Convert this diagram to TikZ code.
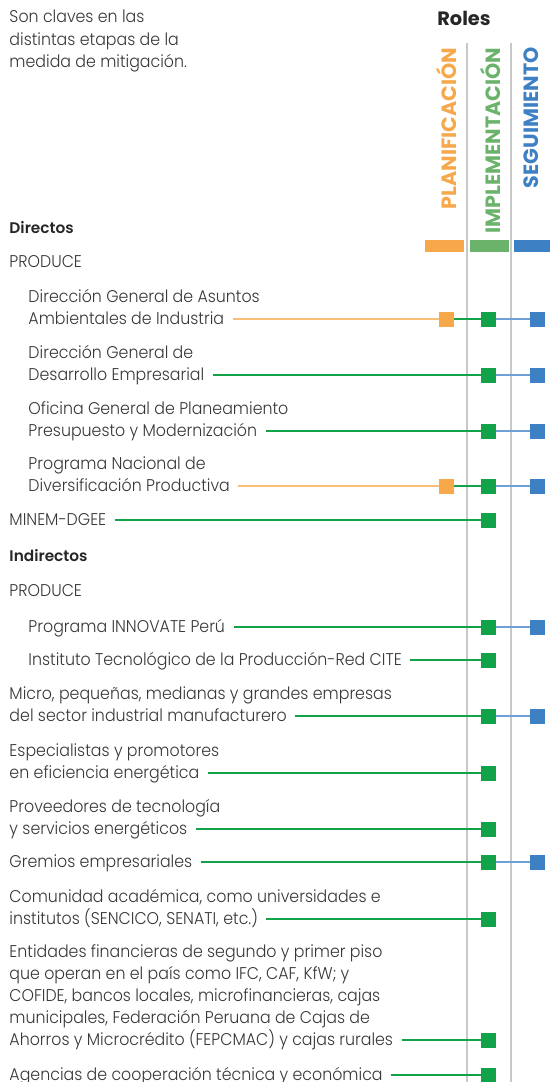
\documentclass[tikz,border=0pt]{standalone}
\usepackage{fontspec}
\setmainfont{Poppins}[UprightFont=* Light, UprightFeatures={FakeStretch=0.93}, BoldFont=* SemiBold]
\newfontfamily\rolefont{Poppins}[UprightFont=* Bold]
\definecolor{planorange}{RGB}{247,168,75}
\definecolor{planline}{RGB}{249,190,120}
\definecolor{implgreen}{RGB}{107,178,106}
\definecolor{implsq}{RGB}{18,162,74}
\definecolor{segblue}{RGB}{61,128,196}
\definecolor{segline}{RGB}{110,160,215}
\definecolor{railgray}{RGB}{200,200,200}
\definecolor{txtgray}{RGB}{55,55,55}

\tikzset{every picture/.style={line width=0.75pt}}
\tikzset{
  txt/.style={anchor=base west, inner sep=0pt, text=txtgray, font=\fontsize{12.75}{14}\selectfont},
  head/.style={anchor=base west, inner sep=0pt, text=black!85, font=\fontsize{11.5}{14}\selectfont\bfseries},
  role/.style={rotate=90, anchor=east, inner sep=0pt, font=\fontsize{15.5}{16}\rolefont},
  sq/.style={minimum size=11.25pt, inner sep=0pt, outer sep=0pt, draw=none},
  osq/.style={sq, fill=planorange},
  gsq/.style={sq, fill=implsq},
  bsq/.style={sq, fill=segblue},
  oline/.style={draw=planline, line width=1pt, shorten <=6pt},
  gline/.style={draw=implsq, line width=1pt, shorten <=6pt},
  gjoin/.style={draw=implsq, line width=1pt},
  bjoin/.style={draw=segline, line width=1pt},
  rail/.style={draw=railgray, line width=1pt}
}

\begin{document}
\begin{tikzpicture}[x=0.75pt,y=0.75pt,yscale=-1,xscale=1]
	\useasboundingbox (0,0) rectangle (550,1082);

	%Rails
	\coordinate (r1top) at (467,43);
	\coordinate (r1bot) at (467,1082);
	\coordinate (r2top) at (511,43);
	\coordinate (r2bot) at (511,1082);
	\draw [rail] (r1top) -- (r1bot) ;
	\draw [rail] (r2top) -- (r2bot) ;

	%Role headers
	\node [font=\fontsize{14.5}{16}\rolefont, text=black!85] (roles) at (464,18) {Roles};
	\node [role, text=planorange] (plan) at (446,47) {PLANIFICACIÓN};
	\node [role, text=implgreen] (impl) at (490,47) {IMPLEMENTACIÓN};
	\node [role, text=segblue] (seg) at (531,47) {SEGUIMIENTO};
	\fill [planorange] (425,240) rectangle (464,252) ;
	\fill [implgreen] (470,240) rectangle (509,252) ;
	\fill [segblue] (514,240) rectangle (550,252) ;

	% Text Node
	\node [txt] (introa) at (9,22) {Son claves en las};
	\node [txt] (introb) at (9,45) {distintas etapas de la};
	\node [txt] (introc) at (9,67) {medida de mitigación.};

	% Directos
	\node [head] (dir) at (9,233) {Directos};
	\node [txt] (produceA) at (9,267) {PRODUCE};

	\node [txt] (t1a) at (28,302.5) {Dirección General de Asuntos};
	\node [txt] (t1) at (28,324.5) {Ambientales de Industria};
	\node [osq] (o1) at (446,319) {};
	\node [gsq] (g1) at (488,319) {};
	\node [bsq] (b1) at (537,319) {};
	\draw [oline] (t1.east |- o1) -- (o1.west) ;
	\draw [gjoin] (o1.east) -- (g1.west) ;
	\draw [bjoin] (g1.east) -- (b1.west) ;

	\node [txt] (t2a) at (28,358.5) {Dirección General de};
	\node [txt] (t2) at (28,380.5) {Desarrollo Empresarial};
	\node [gsq] (g2) at (488,375) {};
	\node [bsq] (b2) at (537,375) {};
	\draw [gline] (t2.east |- g2) -- (g2.west) ;
	\draw [bjoin] (g2.east) -- (b2.west) ;

	\node [txt] (t3a) at (28,414.5) {Oficina General de Planeamiento};
	\node [txt] (t3) at (28,436.5) {Presupuesto y Modernización};
	\node [gsq] (g3) at (488,431) {};
	\node [bsq] (b3) at (537,431) {};
	\draw [gline] (t3.east |- g3) -- (g3.west) ;
	\draw [bjoin] (g3.east) -- (b3.west) ;

	\node [txt] (t4a) at (28,469.5) {Programa Nacional de};
	\node [txt] (t4) at (28,491.5) {Diversificación Productiva};
	\node [osq] (o4) at (446,486) {};
	\node [gsq] (g4) at (488,486) {};
	\node [bsq] (b4) at (537,486) {};
	\draw [oline] (t4.east |- o4) -- (o4.west) ;
	\draw [gjoin] (o4.east) -- (g4.west) ;
	\draw [bjoin] (g4.east) -- (b4.west) ;

	\node [txt] (t5) at (9,525.5) {MINEM-DGEE};
	\node [gsq] (g5) at (488,520) {};
	\draw [gline] (t5.east |- g5) -- (g5.west) ;

	% Indirectos
	\node [head] (indir) at (9,561) {Indirectos};
	\node [txt] (produceB) at (9,596) {PRODUCE};

	\node [txt] (t6) at (28,632.5) {Programa INNOVATE Perú};
	\node [gsq] (g6) at (488,627) {};
	\node [bsq] (b6) at (537,627) {};
	\draw [gline] (t6.east |- g6) -- (g6.west) ;
	\draw [bjoin] (g6.east) -- (b6.west) ;

	\node [txt] (t7) at (28,665.5) {Instituto Tecnológico de la Producción-Red CITE};
	\node [gsq] (g7) at (488,660) {};
	\draw [gline] (t7.east |- g7) -- (g7.west) ;

	\node [txt] (t8a) at (9,699.5) {Micro, pequeñas, medianas y grandes empresas};
	\node [txt] (t8) at (9,721.5) {del sector industrial manufacturero};
	\node [gsq] (g8) at (488,716) {};
	\node [bsq] (b8) at (537,716) {};
	\draw [gline] (t8.east |- g8) -- (g8.west) ;
	\draw [bjoin] (g8.east) -- (b8.west) ;

	\node [txt] (t9a) at (9,756.5) {Especialistas y promotores};
	\node [txt] (t9) at (9,778.5) {en eficiencia energética};
	\node [gsq] (g9) at (488,773) {};
	\draw [gline] (t9.east |- g9) -- (g9.west) ;

	\node [txt] (t10a) at (9,812.5) {Proveedores de tecnología};
	\node [txt] (t10) at (9,834.5) {y servicios energéticos};
	\node [gsq] (g10) at (488,829) {};
	\draw [gline] (t10.east |- g10) -- (g10.west) ;

	\node [txt] (t11) at (9,867.5) {Gremios empresariales};
	\node [gsq] (g11) at (488,862) {};
	\node [bsq] (b11) at (537,862) {};
	\draw [gline] (t11.east |- g11) -- (g11.west) ;
	\draw [bjoin] (g11.east) -- (b11.west) ;

	\node [txt] (t12a) at (9,902.5) {Comunidad académica, como universidades e};
	\node [txt] (t12) at (9,924.5) {institutos (SENCICO, SENATI, etc.)};
	\node [gsq] (g12) at (488,919) {};
	\draw [gline] (t12.east |- g12) -- (g12.west) ;

	\node [txt] (t13a) at (9,957.5) {Entidades financieras de segundo y primer piso};
	\node [txt] (t13b) at (9,979.5) {que operan en el país como IFC, CAF, KfW; y};
	\node [txt] (t13c) at (9,1001.5) {COFIDE, bancos locales, microfinancieras, cajas};
	\node [txt] (t13d) at (9,1023.5) {municipales, Federación Peruana de Cajas de};
	\node [txt] (t13) at (9,1045.5) {Ahorros y Microcrédito (FEPCMAC) y cajas rurales};
	\node [gsq] (g13) at (488,1040) {};
	\draw [gline] (t13.east |- g13) -- (g13.west) ;

	\node [txt] (t14) at (9,1080) {Agencias de cooperación técnica y económica};
	\node [gsq] (g14) at (488,1075) {};
	\draw [gline] (t14.east |- g14) -- (g14.west) ;

\end{tikzpicture}
\end{document}
